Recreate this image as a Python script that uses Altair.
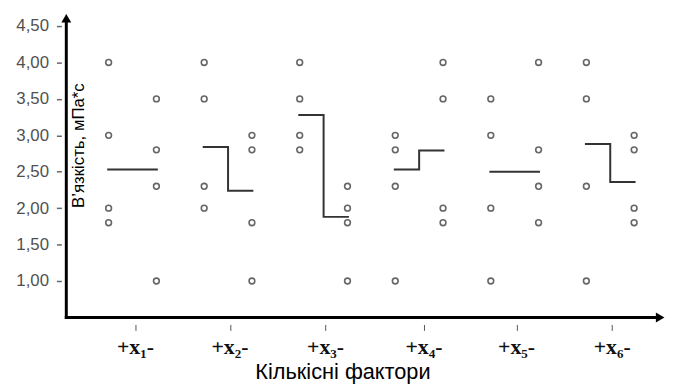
import altair as alt
import pandas as pd

# ---- data ----
factors = ["x1", "x2", "x3", "x4", "x5", "x6"]
tick_labels = ["+x₁-", "+x₂-", "+x₃-", "+x₄-", "+x₅-", "+x₆-"]
tick_pos = [1.03, 2.02, 3.02, 4.05, 5.02, 6.02]
plus_values = [
    [4.0, 3.0, 2.0, 1.8],
    [4.0, 3.5, 2.3, 2.0],
    [4.0, 3.5, 3.0, 2.8],
    [3.0, 2.8, 2.3, 1.0],
    [3.5, 3.0, 2.0, 1.0],
    [4.0, 3.5, 2.3, 1.0],
]
minus_values = [
    [3.5, 2.8, 2.3, 1.0],
    [3.0, 2.8, 1.8, 1.0],
    [2.3, 2.0, 1.8, 1.0],
    [4.0, 3.5, 2.0, 1.8],
    [4.0, 2.8, 2.3, 1.8],
    [3.0, 2.8, 2.0, 1.8],
]
plus_mean = [2.53, 2.84, 3.28, 2.53, 2.50, 2.88]
minus_mean = [2.53, 2.24, 1.88, 2.79, 2.50, 2.36]
y_ticks = [1.0, 1.5, 2.0, 2.5, 3.0, 3.5, 4.0, 4.5]
y_title = "В’язкість, мПа*с"
x_title = "Кількісні фактори"

COL = 0.25   # half distance between + and - columns (factor units)
SEG = 0.265  # half length of mean step line

pts = []
for i, f in enumerate(factors):
    for v in plus_values[i]:
        pts.append({"x": i + 1 - COL, "y": v})
    for v in minus_values[i]:
        pts.append({"x": i + 1 + COL, "y": v})
pts = pd.DataFrame(pts)

lines = []
for i, f in enumerate(factors):
    c = i + 1
    seq = [(c - SEG, plus_mean[i]), (c, plus_mean[i]), (c, minus_mean[i]), (c + SEG, minus_mean[i])]
    for k, (xx, yy) in enumerate(seq):
        lines.append({"f": f, "o": k, "x": xx, "y": yy})
lines = pd.DataFrame(lines)

ticks_df = pd.DataFrame({"x": tick_pos, "label": tick_labels})

W, H = 606, 308
xscale = alt.Scale(domain=[0.307, 6.574], nice=False, zero=False)
yscale = alt.Scale(domain=[0.498, 4.676], nice=False, zero=False)

xaxis = alt.Axis(values=tick_pos, labels=False, ticks=True, tickSize=6, tickWidth=1,
                 tickColor="#555555", domain=False, grid=False, offset=7, title=None)
yaxis = alt.Axis(values=y_ticks,
                 labelExpr="replace(format(datum.value, '.2f'), '.', ',')",
                 ticks=True, tickSize=5, tickWidth=1.5, tickColor="#666666",
                 domain=False, grid=False, offset=5, labelPadding=8,
                 labelFont="Liberation Sans", labelFontSize=17, labelColor="#505050",
                 title=None)

points = alt.Chart(pts).mark_point(shape="circle", size=34, filled=False,
                                   stroke="#666666", strokeWidth=1.6, opacity=1).encode(
    x=alt.X("x:Q", scale=xscale, axis=xaxis),
    y=alt.Y("y:Q", scale=yscale, axis=yaxis),
)

steps = alt.Chart(lines).mark_line(color="#333333", strokeWidth=2).encode(
    x=alt.X("x:Q", scale=xscale),
    y=alt.Y("y:Q", scale=yscale),
    detail="f:N",
    order="o:Q",
)

xlabels = alt.Chart(ticks_df).mark_text(font="Liberation Serif", fontWeight="bold",
                                        fontSize=22, baseline="middle", color="#111111").encode(
    x=alt.X("x:Q", scale=xscale),
    y=alt.value(338),
    text="label:N",
)

one = pd.DataFrame({"a": [0]})
yaxis_line = alt.Chart(one).mark_rule(color="black", strokeWidth=3).encode(
    x=alt.value(0), y=alt.value(6), y2=alt.value(H + 1.5))
xaxis_line = alt.Chart(one).mark_rule(color="black", strokeWidth=3).encode(
    y=alt.value(H), x=alt.value(-1.5), x2=alt.value(W - 6))
yarrow = alt.Chart(one).mark_point(shape="triangle-up", size=100, filled=True,
                                   color="black", opacity=1).encode(
    x=alt.value(0), y=alt.value(5))
xarrow = alt.Chart(one).mark_point(shape="triangle-right", size=100, filled=True,
                                   color="black", opacity=1).encode(
    x=alt.value(W - 5), y=alt.value(H))

ytitle = alt.Chart(pd.DataFrame({"t": [y_title]})).mark_text(
    font="Liberation Sans", fontSize=17, angle=270, color="black",
    align="center", baseline="middle").encode(
    text="t:N", x=alt.value(13), y=alt.value(134))
xtitle = alt.Chart(pd.DataFrame({"t": [x_title]})).mark_text(
    font="Liberation Sans", fontSize=22, color="black",
    align="center", baseline="middle").encode(
    text="t:N", x=alt.value(280), y=alt.value(363))

chart = alt.layer(points, steps, xlabels, yaxis_line, xaxis_line, yarrow, xarrow,
                  ytitle, xtitle).properties(
    width=W, height=H,
    autosize=alt.AutoSizeParams(type="none"),
    padding={"left": 59, "top": 3, "right": 7, "bottom": 68},
).configure(background="white", view=alt.ViewConfig(stroke=None))

chart.save("out.html", embed_options={"renderer": "svg", "actions": False})
